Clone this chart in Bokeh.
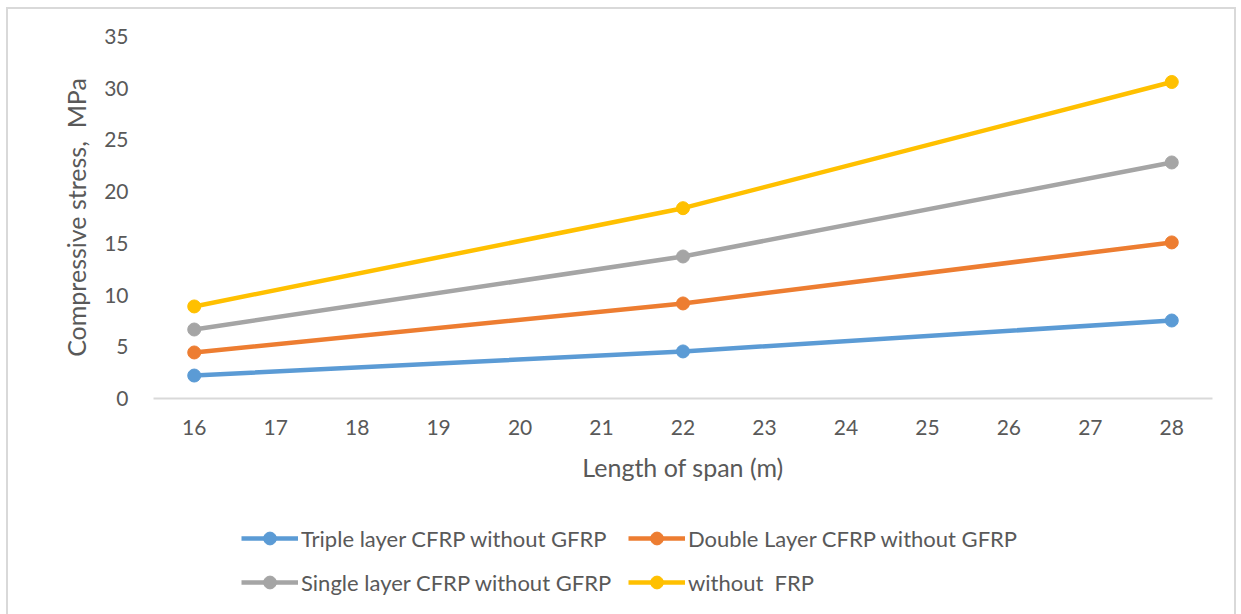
from bokeh.plotting import figure
from bokeh.models import Legend, LegendItem, Range1d, FixedTicker, InlineStyleSheet
from bokeh.layouts import column
from bokeh.embed import file_html
from bokeh.resources import INLINE

span = [16, 22, 28]
triple_cfrp = [2.22, 4.55, 7.54]
double_cfrp = [4.45, 9.19, 15.09]
single_cfrp = [6.67, 13.73, 22.82]
without_frp = [8.9, 18.4, 30.6]

series_names = ["Triple layer CFRP without GFRP", "Double Layer CFRP without GFRP",
                "Single layer CFRP without GFRP", "without\u00a0\u00a0FRP"]
series_values = [triple_cfrp, double_cfrp, single_cfrp, without_frp]
series_colors = ["#5B9BD5", "#ED7D31", "#A5A5A5", "#FFC000"]

x_ticks = list(range(16, 29))
y_ticks = list(range(0, 36, 5))

FONT = "Lato"
TXT = "#595959"

p = figure(width=1241, height=500, output_backend="svg", toolbar_location=None,
           x_range=Range1d(15.5, 28.5), y_range=Range1d(0, 35),
           min_border_left=153, min_border_right=29, min_border_top=36, min_border_bottom=102)
p.outline_line_color = None
p.xgrid.visible = False
p.ygrid.visible = False
p.background_fill_color = None
p.border_fill_color = None

p.xaxis.ticker = FixedTicker(ticks=x_ticks)
p.yaxis.ticker = FixedTicker(ticks=y_ticks)
for ax in (p.xaxis[0], p.yaxis[0]):
    ax.major_tick_line_color = None
    ax.minor_tick_line_color = None
    ax.major_label_text_font = FONT
    ax.major_label_text_font_size = "21px"
    ax.major_label_text_color = TXT
    ax.axis_label_text_font = FONT
    ax.axis_label_text_font_size = "25px"
    ax.axis_label_text_color = TXT
    ax.axis_label_text_font_style = "normal"
p.xaxis.axis_line_color = "#d9d9d9"
p.xaxis.axis_line_width = 2
p.yaxis.axis_line_color = None
p.xaxis.major_label_standoff = 15
p.yaxis.major_label_standoff = 19
p.xaxis.axis_label = "Length of span (m)"
p.yaxis.axis_label = "Compressive stress,\u00a0\u00a0MPa"
p.xaxis.axis_label_standoff = 14
p.yaxis.axis_label_standoff = 10

for vals, col in zip(series_values, series_colors):
    p.line(span, vals, line_color=col, line_width=4.5)
    p.scatter(span, vals, size=13, fill_color=col, line_color=col)

# legend strip below the chart (its own renderers sit outside its visible range)
lg = figure(width=1241, height=114, output_backend="svg", toolbar_location=None,
            x_range=Range1d(0, 1), y_range=Range1d(0, 1),
            min_border_left=0, min_border_right=0, min_border_top=0, min_border_bottom=0)
lg.axis.visible = False
lg.grid.visible = False
lg.outline_line_color = None
lg.background_fill_color = None
lg.border_fill_color = None

items = []
for name, vals, col in zip(series_names, series_values, series_colors):
    r1 = lg.line(span, vals, line_color=col, line_width=4.5)
    r2 = lg.scatter(span, vals, size=13, fill_color=col, line_color=col)
    items.append(LegendItem(label=name, renderers=[r1, r2]))

legend = Legend(items=items, location=(88, 16), ncols=2, orientation="horizontal",
                glyph_width=57, glyph_height=32, label_height=26, label_standoff=3,
                spacing=12, padding=0, margin=0, label_width=315,
                label_text_font=FONT, label_text_font_size="22px", label_text_color=TXT,
                border_line_color=None, background_fill_alpha=0)
lg.add_layout(legend, "center")

layout = column(p, lg, spacing=0)
layout.stylesheets = [InlineStyleSheet(css=":host{position:relative; background:white;} :host::after{content:''; position:absolute; left:6px; top:7px; width:1230px; height:640px; border:2px solid #d9d9d9; border-bottom:none; box-sizing:border-box; pointer-events:none; z-index:10;}")]

open("out.html", "w").write(file_html(layout, INLINE))
